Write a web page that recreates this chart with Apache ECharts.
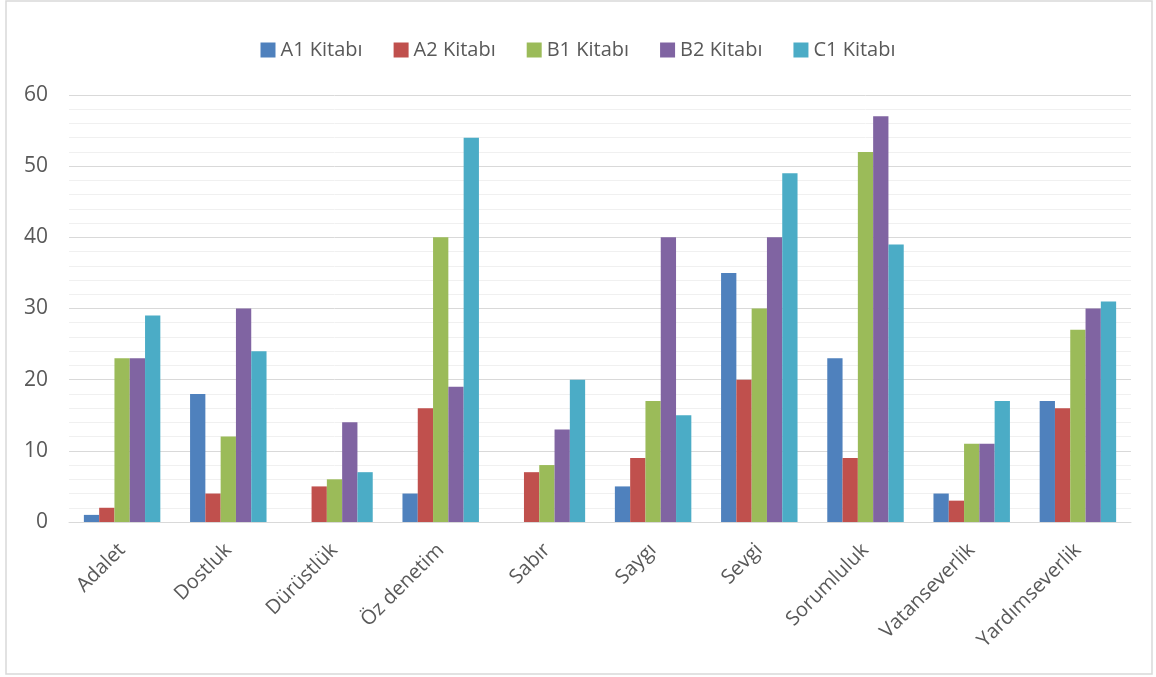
<!DOCTYPE html>
<html>
<head>
<meta charset="utf-8">
<script src="https://cdn.jsdelivr.net/npm/echarts@6/dist/echarts.min.js"></script>
<style>
  html, body { margin: 0; padding: 0; background: #fff; }
  #chart { width: 1156px; height: 677px; }
</style>
</head>
<body>
<div id="chart"></div>
<script>
const categories = ['Adalet', 'Dostluk', 'Dürüstlük', 'Öz denetim', 'Sabır', 'Saygı', 'Sevgi', 'Sorumluluk', 'Vatanseverlik', 'Yardımseverlik'];
const seriesNames = ['A1 Kitabı', 'A2 Kitabı', 'B1 Kitabı', 'B2 Kitabı', 'C1 Kitabı'];
const a1 = [1, 18, 0, 4, 0, 5, 35, 23, 4, 17];
const a2 = [2, 4, 5, 16, 7, 9, 20, 9, 3, 16];
const b1 = [23, 12, 6, 40, 8, 17, 30, 52, 11, 27];
const b2 = [23, 30, 14, 19, 13, 40, 40, 57, 11, 30];
const c1 = [29, 24, 7, 54, 20, 15, 49, 39, 17, 31];
const colors = ['#4F81BD', '#C0504D', '#9BBB59', '#8064A2', '#4BACC6'];

const chart = echarts.init(document.getElementById('chart'));
const font = "'Open Sans', 'Noto Sans', sans-serif";

chart.setOption({
    animation: false,
    textStyle: { fontFamily: font },
    graphic: [{
        type: 'rect',
        shape: { x: 6, y: 1, width: 1146, height: 673 },
        style: { fill: 'none', stroke: '#d9d9d9', lineWidth: 1.5 },
        silent: true
    }],
    legend: {
        top: 35,
        left: 'center',
        itemWidth: 15,
        itemHeight: 15,
        itemGap: 31,
        icon: 'rect',
        textStyle: { color: '#595959', fontSize: 20, fontFamily: font }
    },
    grid: { left: 69, right: 25, top: 95, bottom: 155 },
    xAxis: {
        type: 'category',
        data: categories,
        axisLine: { lineStyle: { color: '#d9d9d9', width: 1 } },
        axisTick: { show: false },
        axisLabel: { rotate: 45, color: '#595959', fontSize: 20, margin: 25, interval: 0 }
    },
    yAxis: {
        type: 'value',
        min: 0,
        max: 60,
        interval: 10,
        axisLine: { show: false },
        axisTick: { show: false },
        axisLabel: { color: '#595959', fontSize: 21, margin: 21 },
        splitLine: { lineStyle: { color: '#d9d9d9', width: 1 } },
        minorTick: { show: false, splitNumber: 5 },
        minorSplitLine: { show: true, lineStyle: { color: '#f0f0f0', width: 1 } }
    },
    series: [a1, a2, b1, b2, c1].map((d, i) => ({
        name: seriesNames[i],
        type: 'bar',
        data: d,
        barGap: '0%',
        barCategoryGap: '28%',
        itemStyle: { color: colors[i] }
    }))
});
</script>
</body>
</html>
